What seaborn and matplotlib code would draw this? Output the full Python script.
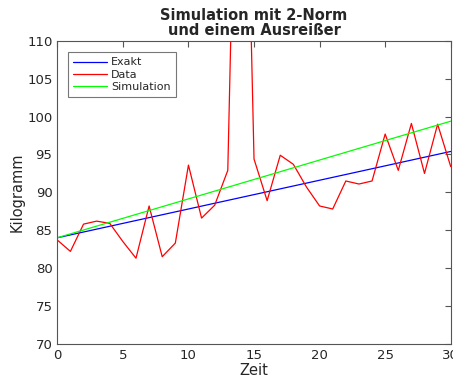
import numpy as np
import pandas as pd
import seaborn as sns
import matplotlib
matplotlib.use("Agg")
import matplotlib.pyplot as plt

# values
zeit = list(range(31))
data = [83.7, 82.2, 85.8, 86.2, 85.9, 83.5, 81.3, 88.2, 81.5, 83.3,
        93.6, 86.6, 88.3, 92.9, 170.0, 94.4, 88.9, 94.9, 93.7, 90.7,
        88.2, 87.8, 91.5, 91.1, 91.5, 97.7, 92.9, 99.1, 92.5, 99.0, 93.4]
exakt_start, exakt_end = 84.0, 95.4
sim_start, sim_end = 84.0, 99.4

exakt = list(np.linspace(exakt_start, exakt_end, len(zeit)))
simulation = list(np.linspace(sim_start, sim_end, len(zeit)))

df = pd.DataFrame({"Zeit": zeit * 3,
                   "Wert": exakt + data + simulation,
                   "Serie": ["Exakt"] * 31 + ["Data"] * 31 + ["Simulation"] * 31})

sns.set_style("white")
plt.rcParams["font.family"] = ["DejaVu Sans"]

fig = plt.figure(figsize=(4.53, 3.79), dpi=100)
ax = fig.add_axes([0.1265, 0.093, 0.8685, 0.799])

sns.lineplot(data=df, x="Zeit", y="Wert", hue="Serie",
             palette={"Exakt": "#0000ff", "Data": "#ff0000", "Simulation": "#00ff00"},
             linewidth=0.9, ax=ax)

ax.set_xlim(0, 30)
ax.set_ylim(70, 110)
ax.set_xticks(range(0, 31, 5))
ax.set_yticks(range(70, 111, 5))
ax.tick_params(direction="in", top=True, right=True, length=4, width=0.8,
               colors="#555555", labelcolor="#262626", labelsize=9.5)
for s in ax.spines.values():
    s.set_visible(True)
    s.set_color("#555555")
    s.set_linewidth(0.8)

ax.set_xlabel("Zeit", fontsize=10.5, color="#262626", labelpad=1)
ax.set_ylabel("Kilogramm", fontsize=10.5, color="#262626", labelpad=2)
ax.set_title("Simulation mit 2-Norm\nund einem Ausreißer", fontsize=10.5,
             fontweight="bold", linespacing=1.0, pad=4)

leg = ax.legend(loc="upper left", bbox_to_anchor=(0.027, 0.962), fontsize=8,
                frameon=True, fancybox=False, edgecolor="#555555",
                handlelength=3.1, borderpad=0.45, labelspacing=0.2,
                handletextpad=0.35, borderaxespad=0)
leg.get_frame().set_linewidth(0.8)

fig.savefig("out.png", dpi=100)
